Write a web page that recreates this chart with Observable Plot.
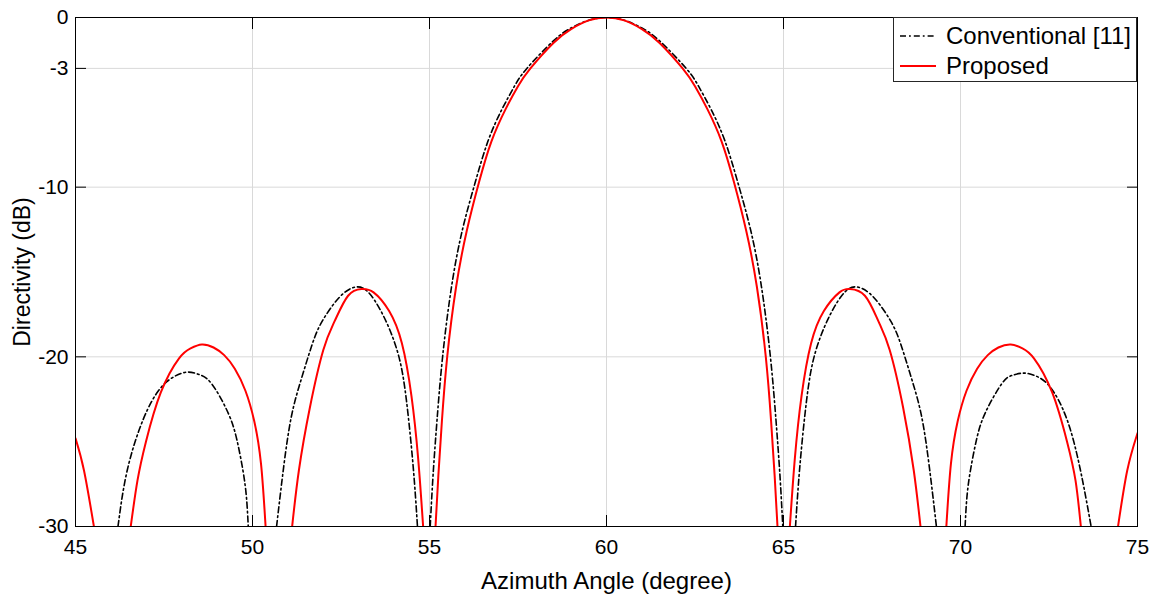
<!DOCTYPE html>
<html>
<head>
<meta charset="utf-8">
<script src="https://cdn.jsdelivr.net/npm/d3@7"></script>
<script src="https://cdn.jsdelivr.net/npm/@observablehq/plot@0.6"></script>
<style>
  html, body { margin: 0; padding: 0; background: white; }
  #wrap { position: relative; width: 1153px; height: 600px; font-family: "Liberation Sans", Arial, sans-serif; }
  #legend { position: absolute; left: 893px; top: 17px; width: 244px; height: 65px; box-sizing: border-box;
            border: 1px solid #262626; background: white; font-size: 24px; color: black; }
  #legend .row { display: flex; align-items: center; height: 30px; }
  #legend .row:first-child { margin-top: 3px; }
  #legend svg { margin-left: 6px; margin-right: 10px; }
</style>
</head>
<body>
<div id="wrap"></div>
<script>
// Tick values
const xTicks = [45, 50, 55, 60, 65, 70, 75];
const yTicks = [0, -3, -10, -20, -30];

// Conventional [11] (black dash-dot) — NaN separates lobes (pattern drops below -30 dB)
const convAngle = [
  46.20, 46.46, 46.91, 47.38, 47.80, 48.17, 48.50, 48.85, 49.31, 49.56, 49.73, 49.83, 49.88, NaN,
  50.68, 50.88, 51.10, 51.38, 51.68, 51.97, 52.45, 52.88, 53.25, 53.69, 54.11, 54.35, 54.54, 54.66, NaN,
  55.02, 55.10, 55.21, 55.37, 55.62, 55.92, 56.28, 56.65, 57.05, 57.40, 57.75, 58.50, 59.00, 59.50, 60.00,
  60.50, 61.00, 61.50, 62.25, 62.60, 62.95, 63.35, 63.72, 64.08, 64.38, 64.63, 64.79, 64.90, 64.98, NaN,
  65.34, 65.46, 65.65, 65.89, 66.31, 66.75, 67.12, 67.55, 68.03, 68.32, 68.62, 68.90, 69.12, 69.32, NaN,
  70.13, 70.18, 70.28, 70.45, 70.70, 71.16, 71.45, 71.79, 72.15, 72.54, 73.01, 73.39, 73.69
];
const convDb = [
  -30.0, -26.7, -23.7, -21.9, -21.15, -20.9, -21.05, -21.6, -23.3, -24.9, -26.7, -28.3, -30.0, NaN,
  -30.0, -26.5, -23.5, -21.3, -19.3, -17.9, -16.5, -15.9, -16.15, -17.55, -19.8, -22.6, -26.5, -30.0, NaN,
  -30.0, -27.0, -23.8, -20.0, -15.9, -12.6, -9.8, -7.3, -5.4, -4.05, -3.0, -1.38, -0.62, -0.16, 0.0,
  -0.16, -0.62, -1.38, -3.0, -4.05, -5.4, -7.3, -9.8, -12.6, -15.9, -20.0, -23.8, -27.0, -30.0, NaN,
  -30.0, -26.5, -22.6, -19.8, -17.55, -16.15, -15.9, -16.5, -17.9, -19.3, -21.3, -23.5, -26.5, -30.0, NaN,
  -30.0, -28.3, -26.7, -24.9, -23.3, -21.6, -21.1, -20.96, -21.15, -21.8, -23.7, -26.7, -30.0
];

// Proposed (red solid)
const propAngle = [
  45.00, 45.24, 45.52, NaN,
  46.56, 46.75, 46.99, 47.41, 47.92, 48.25, 48.57, 48.90, 49.20, 49.50, 49.80, 50.05, 50.24, 50.37, NaN,
  51.12, 51.31, 51.62, 52.00, 52.32, 52.70, 53.08, 53.42, 53.86, 54.22, 54.49, 54.68, 54.82, NaN,
  55.17, 55.25, 55.35, 55.50, 55.75, 56.05, 56.40, 56.75, 57.15, 57.50, 57.85, 58.50, 59.00, 59.50, 60.00,
  60.50, 61.00, 61.50, 62.15, 62.50, 62.85, 63.25, 63.60, 63.95, 64.25, 64.50, 64.65, 64.75, 64.83, NaN,
  65.18, 65.32, 65.51, 65.78, 66.14, 66.58, 66.88, 67.30, 67.68, 68.00, 68.38, 68.68, 68.87, NaN,
  69.60, 69.73, 69.92, 70.17, 70.47, 70.77, 71.07, 71.42, 71.75, 72.08, 72.59, 73.01, 73.25, 73.40, NaN,
  74.45, 74.71, 75.00
];
const propDb = [
  -24.8, -26.7, -30.0, NaN,
  -30.0, -27.3, -25.0, -22.1, -20.1, -19.5, -19.27, -19.45, -19.9, -20.7, -22.0, -23.8, -26.3, -30.0, NaN,
  -30.0, -26.7, -23.0, -19.6, -17.9, -16.4, -16.0, -16.2, -17.3, -19.2, -22.3, -26.0, -30.0, NaN,
  -30.0, -27.0, -23.8, -20.0, -15.9, -12.6, -9.7, -7.3, -5.4, -4.05, -3.0, -1.5, -0.68, -0.17, 0.0,
  -0.17, -0.68, -1.5, -3.0, -4.05, -5.4, -7.3, -9.7, -12.6, -15.9, -20.0, -23.8, -27.0, -30.0, NaN,
  -30.0, -26.0, -22.3, -19.2, -17.3, -16.2, -16.0, -16.4, -17.9, -19.6, -23.0, -26.7, -30.0, NaN,
  -30.0, -26.3, -23.8, -22.0, -20.7, -19.9, -19.45, -19.27, -19.5, -20.1, -22.1, -25.0, -27.3, -30.0, NaN,
  -30.0, -26.7, -24.5
];

const conv = convAngle.map((a, i) => ({angle: a, db: convDb[i]}));
const prop = propAngle.map((a, i) => ({angle: a, db: propDb[i]}));

const fmt = d => String(d);

const plot = Plot.plot({
  width: 1153,
  height: 600,
  marginLeft: 75,
  marginRight: 16,
  marginTop: 17,
  marginBottom: 74,
  style: {fontFamily: "'Liberation Sans', Arial, sans-serif", fontSize: "21px", color: "black", background: "white"},
  x: {domain: [45, 75]},
  y: {domain: [-30, 0]},
  marks: [
    Plot.gridX(xTicks.slice(1, -1), {stroke: "#d9d9d9", strokeOpacity: 1}),
    Plot.gridY(yTicks.slice(1, -1), {stroke: "#d9d9d9", strokeOpacity: 1}),
    // inward tick marks on all four sides
    Plot.axisX(xTicks, {anchor: "bottom", tickSize: 11, dy: -11, fill: "none", tickFormat: () => "", label: null}),
    Plot.axisX(xTicks, {anchor: "top", tickSize: 11, dy: 11, fill: "none", tickFormat: () => "", label: null}),
    Plot.axisY(yTicks, {anchor: "left", tickSize: 11, dx: 11, fill: "none", tickFormat: () => "", label: null}),
    Plot.axisY(yTicks, {anchor: "right", tickSize: 11, dx: -11, fill: "none", tickFormat: () => "", label: null}),
    Plot.line(conv, {x: "angle", y: "db", stroke: "black", strokeWidth: 1.6, strokeDasharray: "6,3,1.8,3", curve: "natural", clip: true}),
    Plot.line(prop, {x: "angle", y: "db", stroke: "#ff0000", strokeWidth: 2, curve: "natural", clip: true}),
    Plot.frame({stroke: "black", strokeWidth: 1}),
    // labelled axes
    Plot.axisX(xTicks, {anchor: "bottom", tickSize: 0, tickPadding: 13, tickFormat: fmt, label: null}),
    Plot.axisY(yTicks, {anchor: "left", tickSize: 0, tickPadding: 7, tickFormat: fmt, label: null}),
    Plot.text(["Azimuth Angle (degree)"], {text: d => d, frameAnchor: "bottom", textAnchor: "middle", dy: 62, fontSize: 24}),
    Plot.text(["Directivity (dB)"], {text: d => d, frameAnchor: "left", textAnchor: "middle", dx: -53, rotate: -90, fontSize: 23})
  ]
});

const wrap = document.getElementById("wrap");
wrap.appendChild(plot);

const legend = document.createElement("div");
legend.id = "legend";
legend.innerHTML = `
  <div class="row"><svg width="36" height="10"><line x1="0" y1="5" x2="36" y2="5" stroke="black" stroke-width="1.6" stroke-dasharray="6,3,1.8,3"/></svg><span>Conventional [11]</span></div>
  <div class="row"><svg width="36" height="10"><line x1="0" y1="5" x2="36" y2="5" stroke="#ff0000" stroke-width="2"/></svg><span>Proposed</span></div>`;
wrap.appendChild(legend);
</script>
</body>
</html>
